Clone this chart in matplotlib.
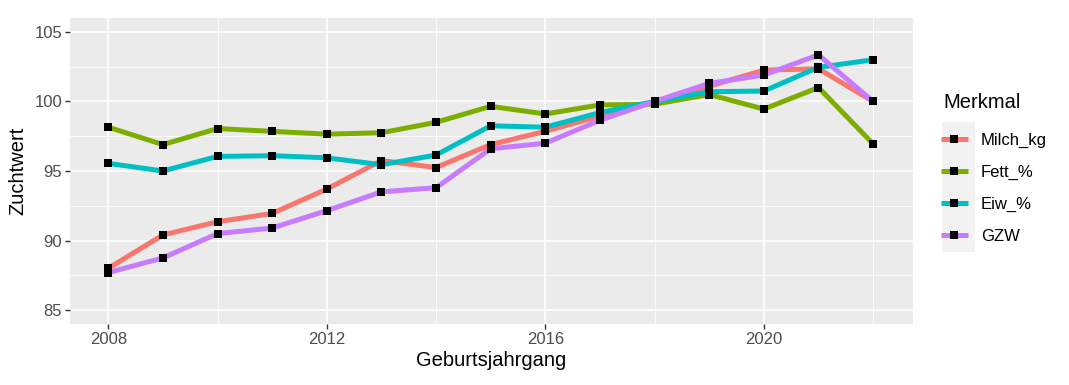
import matplotlib
matplotlib.use('Agg')
import matplotlib.pyplot as plt
from matplotlib.lines import Line2D
from matplotlib.patches import Rectangle

plt.rcParams['font.family'] = ['Liberation Sans', 'DejaVu Sans']

# Zuchtwerte je Geburtsjahrgang
years = [2008, 2009, 2010, 2011, 2012, 2013, 2014, 2015, 2016, 2017, 2018, 2019, 2020, 2021, 2022]
milch_kg = [88.0, 90.4, 91.35, 91.95, 93.7, 95.75, 95.25, 96.9, 97.85, 98.95, 99.95, 101.1, 102.25, 102.35, 100.0]
fett_pct = [98.15, 96.9, 98.05, 97.85, 97.65, 97.75, 98.5, 99.65, 99.1, 99.75, 99.8, 100.5, 99.45, 101.0, 96.95]
eiw_pct = [95.55, 95.0, 96.05, 96.1, 95.95, 95.45, 96.15, 98.25, 98.15, 99.2, 100.0, 100.7, 100.75, 102.45, 103.0]
gzw = [87.7, 88.75, 90.5, 90.9, 92.15, 93.5, 93.8, 96.6, 97.0, 98.65, 100.0, 101.3, 101.9, 103.35, 100.0]

series = [('Milch_kg', milch_kg, '#F8766D'),
          ('Fett_%', fett_pct, '#7CAE00'),
          ('Eiw_%', eiw_pct, '#00BFC4'),
          ('GZW', gzw, '#C77CFF')]

fig = plt.figure(figsize=(10.69, 3.85), dpi=100)
ax = fig.add_axes([70 / 1069, 61 / 385, 843 / 1069, 306 / 385])
ax.set_facecolor('#EBEBEB')

# ggplot-like grid
for x in [2010, 2014, 2018, 2022]:
    ax.axvline(x, color='white', lw=0.6, zorder=0)
for y in [87.5, 92.5, 97.5, 102.5]:
    ax.axhline(y, color='white', lw=0.6, zorder=0)
ax.grid(True, color='white', lw=1.2, zorder=0)
ax.set_axisbelow(True)

for name, vals, col in series:
    ax.plot(years, vals, color=col, lw=3.6, solid_capstyle='butt', zorder=2)
for name, vals, col in series:
    ax.plot(years, vals, 's', color='black', ms=5.3, mew=0, zorder=3)

ax.set_xlim(2007.3, 2022.73)
ax.set_ylim(84.0, 106.0)
ax.set_xticks([2008, 2012, 2016, 2020])
ax.set_yticks([85, 90, 95, 100, 105])
ax.tick_params(axis='both', colors='#333333', length=3.6, width=1.0, pad=2,
               labelsize=12, labelcolor='#4D4D4D')
for s in ax.spines.values():
    s.set_visible(False)

ax.set_xlabel('Geburtsjahrgang', fontsize=14.5, labelpad=3)
ax.set_ylabel('Zuchtwert', fontsize=14.5, labelpad=5)

# legend
handles = [Line2D([0], [0], color=col, lw=3.6, solid_capstyle='butt', marker='s',
                  markerfacecolor='black', markeredgewidth=0, markersize=5.3)
           for name, vals, col in series]
fig.patches.append(Rectangle((942 / 1069, 1 - 252 / 385), 33 / 1069, 130 / 385,
                             transform=fig.transFigure, facecolor='#F2F2F2',
                             edgecolor='none', zorder=0))
fig.text(943 / 1069, 1 - 103 / 385, 'Merkmal', fontsize=14.5, va='center', ha='left')
leg = fig.legend(handles, [s[0] for s in series], loc='upper left',
                 bbox_to_anchor=(941 / 1069, 1 - 133 / 385), frameon=False,
                 fontsize=12, handlelength=1.6, handletextpad=0.8,
                 labelspacing=1.01, borderpad=0, borderaxespad=0)

fig.savefig('out.png', dpi=100)
